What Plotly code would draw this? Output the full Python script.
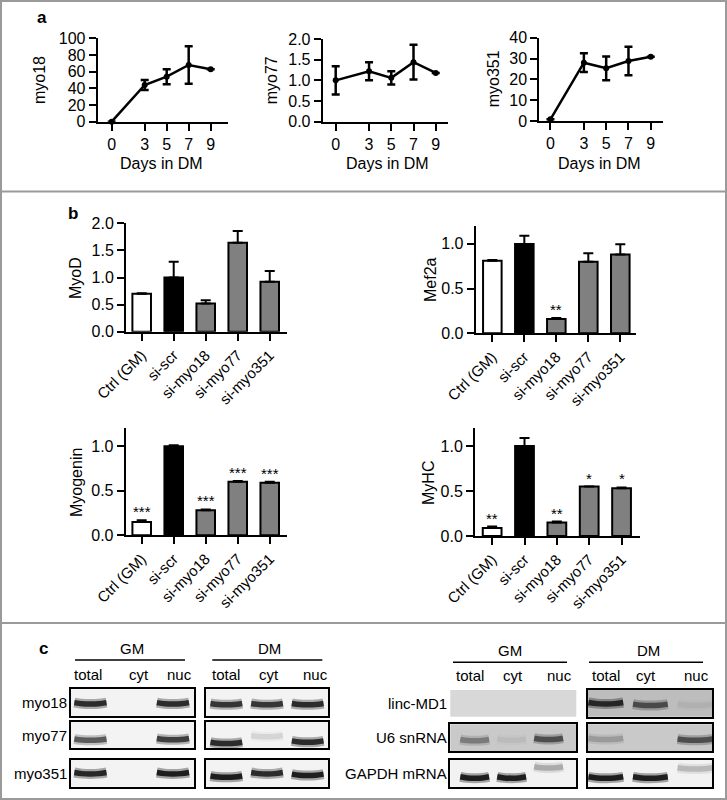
import plotly.graph_objects as go

W, H = 727, 800
FONT = "Liberation Sans, Arial, sans-serif"

# ---------------- data ----------------
days = [0, 3, 5, 7, 9]
myo18_mean = [0, 44, 54, 68, 63]
myo18_err = [0, 6, 9, 22.5, 0]
myo77_mean = [1.0, 1.22, 1.06, 1.44, 1.18]
myo77_err = [0.34, 0.22, 0.16, 0.42, 0]
myo351_mean = [0.8, 28, 25.3, 28.8, 30.9]
myo351_err = [0, 4.5, 5.7, 6.8, 0]

conditions = ["Ctrl (GM)", "si-scr", "si-myo18", "si-myo77", "si-myo351"]
myod_mean = [0.70, 1.0, 0.52, 1.64, 0.92]
myod_err = [0.01, 0.29, 0.06, 0.22, 0.20]
mef2a_mean = [0.81, 1.0, 0.16, 0.80, 0.88]
mef2a_err = [0.01, 0.09, 0.01, 0.095, 0.115]
myogenin_mean = [0.15, 1.0, 0.28, 0.60, 0.59]
myogenin_err = [0.02, 0.01, 0.01, 0.01, 0.01]
myhc_mean = [0.09, 1.0, 0.15, 0.55, 0.53]
myhc_err = [0.015, 0.09, 0.01, 0.0, 0.01]
myod_sig = ["", "", "", "", ""]
mef2a_sig = ["", "", "**", "", ""]
myogenin_sig = ["***", "", "***", "***", "***"]
myhc_sig = ["**", "", "**", "*", "*"]

lanes = ["total", "cyt", "nuc"]
left_rows = ["myo18", "myo77", "myo351"]
right_rows = ["linc-MD1", "U6 snRNA", "GAPDH mRNA"]
# band intensity per lane (total, cyt, nuc); 0 = no band
myo18_gm = [0.85, 0.0, 0.85]
myo18_dm = [0.8, 0.8, 0.85]
myo77_gm = [0.6, 0.0, 0.75]
myo77_dm = [0.85, 0.1, 0.85]
myo351_gm = [0.9, 0.0, 0.95]
myo351_dm = [0.95, 0.85, 0.95]
lincmd1_gm = [0.0, 0.0, 0.0]
lincmd1_dm = [0.85, 0.6, 0.05]
u6_gm = [0.35, 0.05, 0.6]
u6_dm = [0.2, 0.0, 0.6]
gapdh_gm = [0.95, 0.95, 0.25]
gapdh_dm = [0.95, 0.95, 0.2]

# ---------------- helpers ----------------
fig = go.Figure()
layout = {}
annotations = []
shapes = []
count = [0]


def px(x):
    return x / W


def py(y):
    return 1 - y / H


def new_axes(x0, x1, y0, y1, xr, yr, xkw=None, ykw=None, fs=15):
    count[0] += 1
    n = count[0]
    sfx = "" if n == 1 else str(n)
    base = dict(showgrid=False, zeroline=False, showline=True, linecolor="black", automargin=False,
                linewidth=2, ticks="outside", ticklen=7, tickwidth=2, tickcolor="black",
                tickfont=dict(family=FONT, size=fs, color="black"))
    xa = dict(base, domain=[px(x0), px(x1)], range=xr, anchor="y" + sfx)
    ya = dict(base, domain=[py(y1), py(y0)], range=yr, anchor="x" + sfx)
    if xkw:
        xa.update(xkw)
    if ykw:
        ya.update(ykw)
    layout["xaxis" + sfx] = xa
    layout["yaxis" + sfx] = ya
    return "x" + sfx, "y" + sfx


def text(x, y, s, size=14, xanchor="center", yanchor="middle", angle=0, bold=False):
    annotations.append(dict(x=px(x), y=py(y), xref="paper", yref="paper", text=("<b>%s</b>" % s) if bold else s,
                            showarrow=False, xanchor=xanchor, yanchor=yanchor, textangle=angle,
                            font=dict(family=FONT, size=size, color="black")))


def hline(x0, x1, y, color="black", width=1.5):
    shapes.append(dict(type="line", xref="paper", yref="paper", x0=px(x0), x1=px(x1), y0=py(y), y1=py(y),
                       line=dict(color=color, width=width)))


# ---------------- panel a ----------------
line_specs = [
    ("myo18", myo18_mean, myo18_err, (97.7, 228.3, 38.3, 121.7), [-1.27, 10.6], [0, 100],
     [0, 20, 40, 60, 80, 100], None, 40, 161),
    ("myo77", myo77_mean, myo77_err, (322.7, 448.3, 39, 121.7), [-1.17, 10.13], [0, 2],
     [0, 0.5, 1.0, 1.5, 2.0], ".1f", 271, 387),
    ("myo351", myo351_mean, myo351_err, (539.3, 662.7, 37.7, 121), [-1.0, 10.07], [0, 40],
     [0, 10, 20, 30, 40], None, 493, 599),
]
for name, mean, err, dom, xr, yr, ytv, yfmt, ylabx, xlabx in line_specs:
    xa, ya = new_axes(*dom, xr, yr, xkw=dict(tickvals=days),
                      ykw=dict(tickvals=ytv, tickformat=yfmt) if yfmt else dict(tickvals=ytv), fs=16)
    fig.add_trace(go.Scatter(x=days, y=mean, xaxis=xa, yaxis=ya, mode="lines+markers",
                             line=dict(color="black", width=2.5), marker=dict(color="black", size=6),
                             error_y=dict(type="data", array=err, visible=True, color="black",
                                          thickness=2.5, width=4),
                             cliponaxis=False, showlegend=False))
    text(ylabx, (dom[2] + dom[3]) / 2, name, size=16, angle=-90)
    text(xlabx, 163, "Days in DM", size=16)

text(42, 18, "a", size=17, bold=True)

# ---------------- panel b ----------------
bar_colors = ["white", "black", "#808080", "#808080", "#808080"]
bar_specs = [
    ("MyoD", myod_mean, myod_err, myod_sig, (126, 286.7, 223.3, 331.7), [-0.49, 4.53], [0, 2],
     [0, 0.5, 1.0, 1.5, 2.0], 76, 278),
    ("Mef2a", mef2a_mean, mef2a_err, mef2a_sig, (475.7, 636.3, 226, 333.3), [-0.52, 4.5], [0, 1.2],
     [0, 0.5, 1.0], 430, 280),
    ("Myogenin", myogenin_mean, myogenin_err, myogenin_sig, (125.7, 286.7, 428.3, 535.3), [-0.5, 4.53],
     [0, 1.2], [0, 0.5, 1.0], 76, 483),
    ("MyHC", myhc_mean, myhc_err, myhc_sig, (475, 640, 428, 536), [-0.53, 4.57], [0, 1.2],
     [0, 0.5, 1.0], 428, 483),
]
for name, mean, err, sig, dom, xr, yr, ytv, ylabx, ylaby in bar_specs:
    idx = list(range(len(conditions)))
    xa, ya = new_axes(*dom, xr, yr,
                      xkw=dict(tickvals=idx, ticktext=conditions, tickangle=-45,
                               tickfont=dict(family=FONT, size=15, color="black")),
                      ykw=dict(tickvals=ytv, tickformat=".1f"), fs=16)
    fig.add_trace(go.Bar(x=idx, y=mean, xaxis=xa, yaxis=ya, width=0.58,
                         marker=dict(color=bar_colors, line=dict(color="black", width=2)),
                         error_y=dict(type="data", array=err, arrayminus=[0] * len(err), symmetric=False,
                                      color="black", thickness=2, width=5),
                         cliponaxis=False, showlegend=False))
    for i, s in enumerate(sig):
        if s:
            annotations.append(dict(x=i, y=mean[i] + err[i], xref=xa, yref=ya, text=s, showarrow=False,
                                    yanchor="bottom", yshift=-2,
                                    font=dict(family=FONT, size=15, color="black")))
    text(ylabx, ylaby, name, size=16, angle=-90)

text(73, 213, "b", size=17, bold=True)

# ---------------- panel c ----------------
gels = [
    (myo18_gm, (71, 194, 689.3, 716), [-0.47, 2.51], [0.47, 0.47, 0.47], "#f3f3f3"),
    (myo18_dm, (206, 328, 689.3, 716), [-0.5, 2.5], [0.44, 0.44, 0.44], "#f3f3f3"),
    (myo77_gm, (71, 194, 721.7, 748.3), [-0.47, 2.51], [0.32, 0.32, 0.34], "#f3f3f3"),
    (myo77_dm, (206, 328, 721.7, 748.3), [-0.5, 2.5], [0.2, 0.45, 0.25], "#f3f3f3"),
    (myo351_gm, (71, 194, 760, 786.7), [-0.47, 2.51], [0.5, 0.5, 0.5], "#f3f3f3"),
    (myo351_dm, (206, 328, 760, 786.7), [-0.5, 2.5], [0.37, 0.5, 0.44], "#f3f3f3"),
    (lincmd1_gm, (450.3, 576.3, 690, 716.7), [-0.66, 2.75], [0.45, 0.45, 0.45], "#d8d8d8"),
    (lincmd1_dm, (588, 712.3, 690, 716.7), [-0.4, 2.39], [0.5, 0.44, 0.44], "#bdbdbd"),
    (u6_gm, (450.3, 576.3, 724.3, 751), [-0.66, 2.75], [0.4, 0.42, 0.45], "#c9c9c9"),
    (u6_dm, (588, 712.3, 724.3, 751), [-0.4, 2.39], [0.45, 0.42, 0.42], "#c9c9c9"),
    (gapdh_gm, (450.3, 576.3, 760, 786.7), [-0.66, 2.75], [0.34, 0.34, 0.72], "#f2f2f2"),
    (gapdh_dm, (588, 712.3, 760, 786.7), [-0.4, 2.39], [0.34, 0.34, 0.68], "#f2f2f2"),
]
for inten, box, xr, bandy, bg in gels:
    xa, ya = new_axes(*box, xr, [0, 1],
                      xkw=dict(mirror=True, ticks="", showticklabels=False, linewidth=1.5),
                      ykw=dict(mirror=True, ticks="", showticklabels=False, linewidth=1.5))
    shapes.append(dict(type="rect", xref="paper", yref="paper", x0=px(box[0]), x1=px(box[1]),
                       y0=py(box[3]), y1=py(box[2]), fillcolor=bg, line=dict(width=0), layer="below"))
    for lane, (v, by) in enumerate(zip(inten, bandy)):
        if v <= 0:
            continue
        xs = [lane - 0.39, lane - 0.2, lane, lane + 0.2, lane + 0.39]
        ys = [by + 0.03, by - 0.01, by - 0.02, by - 0.01, by + 0.03]
        fig.add_trace(go.Scatter(x=xs, y=ys, xaxis=xa, yaxis=ya, mode="lines", hoverinfo="skip",
                                 line=dict(color="rgba(0,0,0,%.2f)" % (0.35 * v), width=10, shape="spline"),
                                 showlegend=False))
        fig.add_trace(go.Scatter(x=xs, y=ys, xaxis=xa, yaxis=ya, mode="lines", hoverinfo="skip",
                                 line=dict(color="rgba(15,15,15,%.2f)" % (0.95 * v), width=5.5, shape="spline"),
                                 showlegend=False))

for name, yc in zip(left_rows, [702.7, 735, 773.3]):
    text(69, yc, name, size=15, xanchor="right")
for name, yc in zip(right_rows, [703.3, 737.7, 773.3]):
    text(449, yc, name, size=15, xanchor="right")
for lab, xc in zip(lanes + lanes, [88.3, 139.3, 179, 226, 269.3, 315]):
    text(xc, 674, lab, size=15)
for lab, xc in zip(lanes + lanes, [470.3, 513, 559.7, 605.7, 645.7, 696.3]):
    text(xc, 675.7, lab, size=15)
text(131.7, 648.3, "GM", size=15)
text(269.3, 648, "DM", size=15)
text(509.7, 650, "GM", size=15)
text(648, 650, "DM", size=15)
hline(75, 185, 660)
hline(212.3, 322.3, 660)
hline(453, 567, 662.3)
hline(589, 703, 662.3)
text(43, 648, "c", size=17, bold=True)

# frame and separators
shapes.append(dict(type="rect", xref="paper", yref="paper", x0=px(1), x1=px(726), y0=py(799), y1=py(1),
                   line=dict(color="#9a9a9a", width=2), fillcolor="rgba(0,0,0,0)"))
hline(1, 726, 191.5, color="#9a9a9a", width=2)
hline(1, 726, 623, color="#9a9a9a", width=2)

fig.update_layout(**layout)
fig.update_layout(width=W, height=H, margin=dict(l=0, r=0, t=0, b=0, pad=0, autoexpand=False),
                  paper_bgcolor="white", plot_bgcolor="rgba(0,0,0,0)",
                  annotations=annotations, shapes=shapes, showlegend=False,
                  font=dict(family=FONT, color="black"))
fig.write_html("out.html", config={"displayModeBar": False},
               post_script="document.body.style.margin='0';document.body.style.overflow='hidden';")
